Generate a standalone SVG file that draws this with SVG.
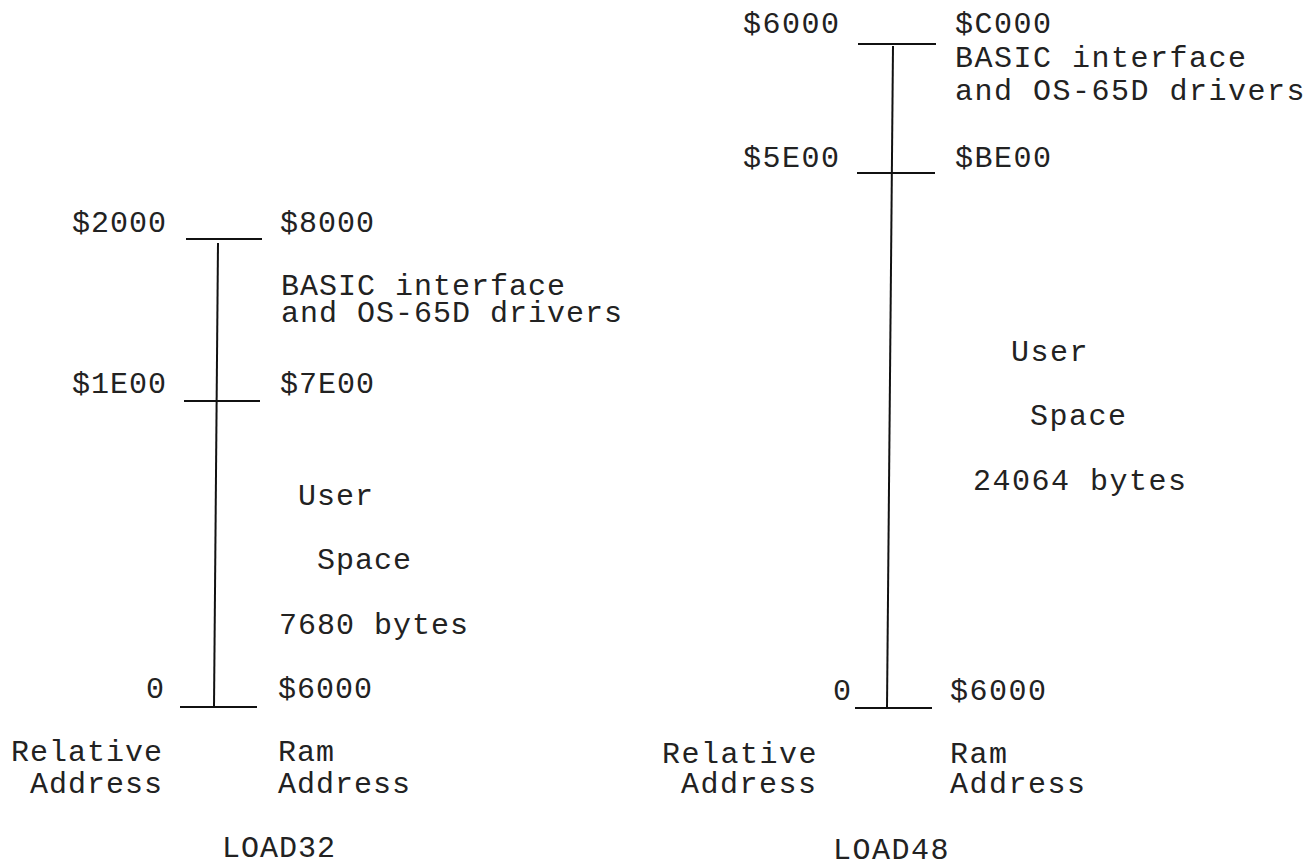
<svg xmlns="http://www.w3.org/2000/svg" width="1316" height="867" viewBox="0 0 1316 867">
<style>
text{font-family:"Liberation Mono","DejaVu Sans Mono",monospace;font-size:30px;fill:#222;letter-spacing:1px}
.r text{letter-spacing:1.5px}
line{stroke:#111;stroke-width:2;fill:none}
</style>
<rect width="1316" height="867" fill="#fff"/>
<g id="connectors">
<line x1="218" y1="243" x2="214" y2="707"/>
<line x1="893" y1="46" x2="887" y2="708"/>
</g>
<g id="load32">
<g id="l-top"><line x1="186" y1="239" x2="262" y2="239"/><text x="72" y="232">$2000</text><text x="280" y="232">$8000</text></g>
<g id="l-basic"><text x="281" y="295">BASIC interface</text><text x="281" y="322">and OS-65D drivers</text></g>
<g id="l-mid"><line x1="184" y1="401" x2="260" y2="401"/><text x="72" y="393">$1E00</text><text x="280" y="393">$7E00</text></g>
<g id="l-user"><text x="298" y="505">User</text><text x="317" y="569">Space</text><text x="279" y="634">7680 bytes</text></g>
<g id="l-bot"><line x1="180" y1="707" x2="257" y2="707"/><text x="146" y="698">0</text><text x="278" y="698">$6000</text></g>
<g id="l-labels"><text x="11" y="761">Relative</text><text x="30" y="793">Address</text><text x="278" y="761">Ram</text><text x="278" y="793">Address</text><text x="222" y="857">LOAD32</text></g>
</g>
<g id="load48" class="r">
<g id="r-top"><line x1="858" y1="44" x2="936" y2="44"/><text x="743" y="33">$6000</text><text x="955" y="33">$C000</text></g>
<g id="r-basic"><text x="955" y="67">BASIC interface</text><text x="955" y="100">and OS-65D drivers</text></g>
<g id="r-mid"><line x1="857" y1="173" x2="935" y2="173"/><text x="743" y="167">$5E00</text><text x="955" y="167">$BE00</text></g>
<g id="r-user"><text x="1011" y="361">User</text><text x="1030" y="425">Space</text><text x="973" y="490">24064 bytes</text></g>
<g id="r-bot"><line x1="855" y1="708" x2="932" y2="708"/><text x="833" y="700">0</text><text x="950" y="700">$6000</text></g>
<g id="r-labels"><text x="662" y="763">Relative</text><text x="681" y="793">Address</text><text x="950" y="763">Ram</text><text x="950" y="793">Address</text><text x="833" y="859">LOAD48</text></g>
</g>
</svg>
